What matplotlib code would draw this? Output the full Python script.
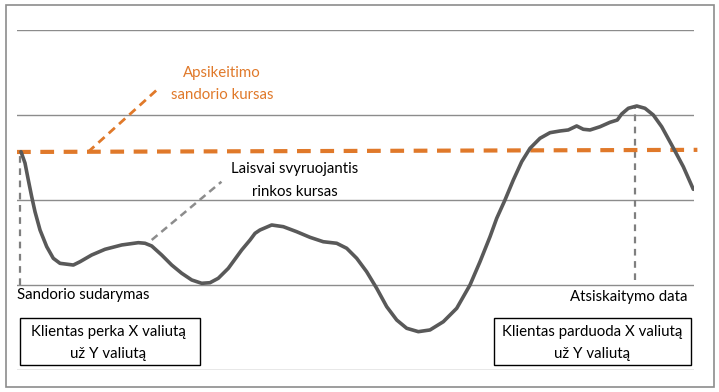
import matplotlib.pyplot as plt
from matplotlib.patches import Rectangle

# time axis 0..100, rate axis 0..4 (gridlines at each unit)
t = [0.59, 1.18, 1.67, 2.17, 2.66, 3.40, 4.39, 5.36, 6.35, 8.32, 9.31, 11.03, 13.0,
     15.47, 17.92, 18.91, 19.90, 21.37, 22.85, 24.33, 25.81, 27.28, 28.51, 29.73,
     31.21, 33.19, 34.42, 35.16, 35.89, 37.62, 39.34, 41.31, 43.28, 45.24, 47.22,
     48.70, 50.18, 51.65, 53.13, 54.61, 56.09, 57.56, 59.28, 61.0, 62.97, 64.95,
     66.91, 68.39, 69.87, 70.86, 72.08, 73.31, 74.55, 75.78, 77.25, 78.73, 80.21,
     81.43, 82.67, 83.65, 84.64, 86.12, 87.59, 88.67, 89.32, 90.30, 91.54, 92.76,
     93.99, 95.23, 96.71, 98.42, 99.90]
market_rate = [2.568, 2.435, 2.235, 2.039, 1.862, 1.647, 1.451, 1.314, 1.255, 1.235,
               1.274, 1.353, 1.420, 1.471, 1.498, 1.491, 1.459, 1.353, 1.235, 1.138,
               1.059, 1.020, 1.027, 1.079, 1.196, 1.412, 1.529, 1.608, 1.647, 1.706,
               1.686, 1.627, 1.561, 1.509, 1.491, 1.432, 1.314, 1.156, 0.961, 0.745,
               0.588, 0.491, 0.451, 0.471, 0.568, 0.726, 1.0, 1.274, 1.568, 1.785,
               2.0, 2.235, 2.451, 2.608, 2.726, 2.792, 2.812, 2.824, 2.871, 2.832,
               2.824, 2.862, 2.914, 2.941, 3.012, 3.079, 3.106, 3.079, 3.0, 2.862,
               2.647, 2.392, 2.126]
swap_t = [0.0, 100.5]
swap_rate = [2.565, 2.59]
start_t, settle_t = 0.4, 91.3
grid_levels = [0, 1, 2, 3, 4]

orange = "#E0792A"
gray = "#595959"
font = ["Lato", "DejaVu Sans"]
fs = 10.8

fig = plt.figure(figsize=(7.19, 3.92), dpi=100)
fig.patches.append(Rectangle((6 / 719, 5 / 392), 708 / 719, 382 / 392,
                             transform=fig.transFigure, fill=False,
                             edgecolor="#8c8c8c", linewidth=1.2))
ax = fig.add_axes([17 / 719, 22 / 392, 677 / 719, 340 / 392])
ax.set_xlim(0, 100)
ax.set_ylim(0, 4)
ax.axis("off")

for g in grid_levels:
    ax.axhline(g, color="#8c8c8c", linewidth=1, zorder=1)

ax.plot(swap_t, swap_rate, color=orange, linewidth=3, dashes=(3.3, 2.3),
        zorder=3, clip_on=False)
ax.plot(t, market_rate, color=gray, linewidth=2.6, solid_capstyle="round",
        solid_joinstyle="round", zorder=4)

# vertical markers for deal and settlement dates
ax.plot([start_t, start_t], [1.0, 2.565], color="#7f7f7f", linewidth=1.6,
        dashes=(3, 2.5), zorder=2)
ax.plot([settle_t, settle_t], [1.06, 3.11], color="#7f7f7f", linewidth=1.6,
        dashes=(3, 2.5), zorder=2)

# leader lines
ax.plot([10.5, 21.0], [2.565, 3.32], color=orange, linewidth=2,
        dashes=(3, 2), zorder=2)
ax.plot([19.9, 30.2], [1.53, 2.215], color="#8c8c8c", linewidth=1.8,
        dashes=(3, 2), zorder=2)

ax.text(30.3, 3.365, "Apsikeitimo\nsandorio kursas", color=orange, ha="center",
        va="center", fontsize=fs, family=font, linespacing=1.75)
ax.text(41.0, 2.229, "Laisvai svyruojantis\nrinkos kursas", color="black",
        ha="center", va="center", fontsize=fs, family=font, linespacing=1.75)
ax.text(0.0, 0.88, "Sandorio sudarymas", color="black", ha="left", va="center",
        fontsize=fs, family=font)
ax.text(99.0, 0.86, "Atsiskaitymo data", color="black", ha="right",
        va="center", fontsize=fs, family=font)

ax.add_patch(Rectangle((0.45, 0.06), 26.6, 0.55, fill=False, edgecolor="black",
                       linewidth=1, zorder=5))
ax.text(13.5, 0.318, "Klientas perka X valiutą\nuž Y valiutą", ha="center",
        va="center", fontsize=fs, family=font, linespacing=1.75)
ax.add_patch(Rectangle((70.5, 0.06), 29.0, 0.55, fill=False, edgecolor="black",
                       linewidth=1, zorder=5))
ax.text(84.9, 0.318, "Klientas parduoda X valiutą\nuž Y valiutą", ha="center",
        va="center", fontsize=fs, family=font, linespacing=1.75)

fig.savefig("out.png", dpi=100)
